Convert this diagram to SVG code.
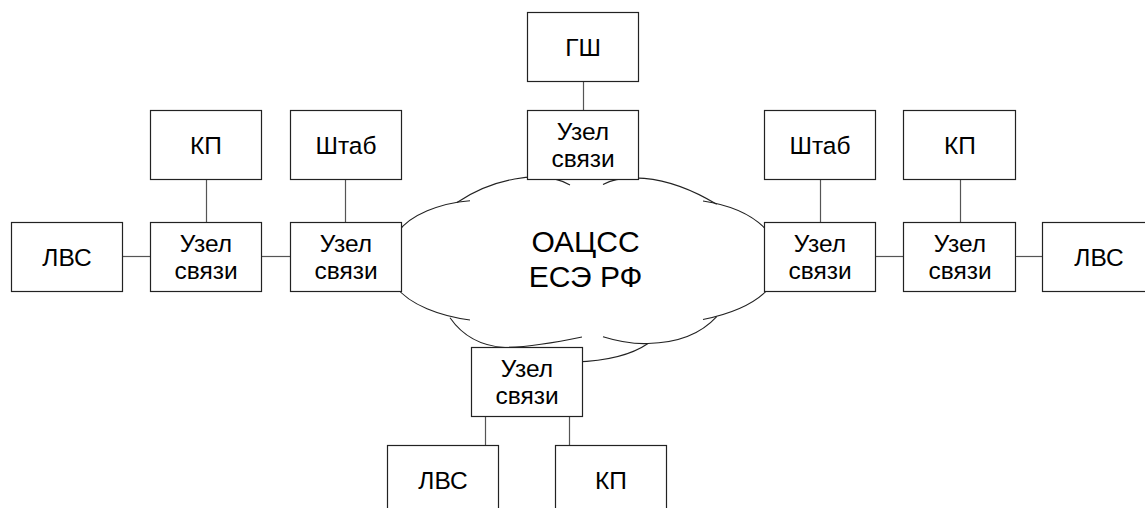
<svg xmlns="http://www.w3.org/2000/svg" width="1145" height="508" viewBox="0 0 1145 508">
  <style>
    .box { fill: #ffffff; stroke: #222222; stroke-width: 1.2; }
    .link { fill: none; stroke: #555555; stroke-width: 1.2; }
    .cloud { fill: none; stroke: #222222; stroke-width: 1.1; }
    .lbl { font-family: "Liberation Sans", Arial, sans-serif; font-size: 24.5px; fill: #000000; text-anchor: middle; }
    .big { font-family: "Liberation Sans", Arial, sans-serif; font-size: 30px; fill: #000000; text-anchor: middle; }
  </style>
  <rect width="1145" height="508" fill="#ffffff"/>

  <!-- network cloud outline: overlapping lobes -->
  <g id="cloud">
    <path class="cloud" d="M457,202.5 C490,180 540,168 570,185"/>
    <path class="cloud" d="M603,184.5 C618,176 660,170 716.7,204.3"/>
    <path class="cloud" d="M470,200.7 C440,203 410,215 398,232"/>
    <path class="cloud" d="M703,201 C730,205 755,215 770,234"/>
    <path class="cloud" d="M396,287 C410,305 440,316 470,320"/>
    <path class="cloud" d="M450,317.7 C462,335 480,346 505,347.5 C530,347 558,342 582,337"/>
    <path class="cloud" d="M603,336.7 C620,342 635,344 648,343.5 C675,343 700,335 716.7,316.7"/>
    <path class="cloud" d="M648,343.5 C630,356 605,361 575,362"/>
    <path class="cloud" d="M770,287 C755,305 730,314 703,319.5"/>
    <text class="big" x="585.5" y="252">ОАЦСС</text>
    <text class="big" x="585.5" y="286.5">ЕСЭ РФ</text>
  </g>

  <!-- connectors -->
  <g id="connectors">
    <line class="link" x1="122" y1="256.5" x2="150" y2="256.5"/>
    <line class="link" x1="262" y1="256.5" x2="290" y2="256.5"/>
    <line class="link" x1="206.5" y1="180" x2="206.5" y2="222"/>
    <line class="link" x1="345.5" y1="180" x2="345.5" y2="222"/>
    <line class="link" x1="583.5" y1="82" x2="583.5" y2="110"/>
    <line class="link" x1="820.5" y1="180" x2="820.5" y2="222"/>
    <line class="link" x1="960.5" y1="180" x2="960.5" y2="222"/>
    <line class="link" x1="876" y1="256.5" x2="904" y2="256.5"/>
    <line class="link" x1="1016" y1="256.5" x2="1043" y2="256.5"/>
    <line class="link" x1="485.5" y1="417" x2="485.5" y2="445"/>
    <line class="link" x1="569.5" y1="417" x2="569.5" y2="445"/>
  </g>

  <!-- left branch -->
  <g id="lvs-left">
    <rect class="box" x="11.5" y="222.5" width="111" height="69"/>
    <text class="lbl" x="67" y="265.5">ЛВС</text>
  </g>
  <g id="kp-left">
    <rect class="box" x="150.5" y="110.5" width="111" height="69"/>
    <text class="lbl" x="206" y="153.5">КП</text>
  </g>
  <g id="node-left-outer">
    <rect class="box" x="150.5" y="222.5" width="111" height="69"/>
    <text class="lbl" x="206" y="251.5">Узел</text>
    <text class="lbl" x="206" y="278.5">связи</text>
  </g>
  <g id="shtab-left">
    <rect class="box" x="290.5" y="110.5" width="111" height="69"/>
    <text class="lbl" x="346" y="153.5">Штаб</text>
  </g>
  <g id="node-left-inner">
    <rect class="box" x="290.5" y="222.5" width="111" height="69"/>
    <text class="lbl" x="346" y="251.5">Узел</text>
    <text class="lbl" x="346" y="278.5">связи</text>
  </g>

  <!-- top branch -->
  <g id="gsh">
    <rect class="box" x="527.5" y="12.5" width="111" height="69"/>
    <text class="lbl" x="583" y="55.5">ГШ</text>
  </g>
  <g id="node-top">
    <rect class="box" x="527.5" y="110.5" width="111" height="69"/>
    <text class="lbl" x="583" y="139.5">Узел</text>
    <text class="lbl" x="583" y="166.5">связи</text>
  </g>

  <!-- right branch -->
  <g id="shtab-right">
    <rect class="box" x="764.5" y="110.5" width="111" height="69"/>
    <text class="lbl" x="820" y="153.5">Штаб</text>
  </g>
  <g id="node-right-inner">
    <rect class="box" x="764.5" y="222.5" width="111" height="69"/>
    <text class="lbl" x="820" y="251.5">Узел</text>
    <text class="lbl" x="820" y="278.5">связи</text>
  </g>
  <g id="kp-right">
    <rect class="box" x="903.5" y="110.5" width="112" height="69"/>
    <text class="lbl" x="960" y="153.5">КП</text>
  </g>
  <g id="node-right-outer">
    <rect class="box" x="903.5" y="222.5" width="112" height="69"/>
    <text class="lbl" x="960" y="251.5">Узел</text>
    <text class="lbl" x="960" y="278.5">связи</text>
  </g>
  <g id="lvs-right">
    <rect class="box" x="1042.5" y="222.5" width="112" height="69"/>
    <text class="lbl" x="1099" y="265.5">ЛВС</text>
  </g>

  <!-- bottom branch -->
  <g id="node-bottom">
    <rect class="box" x="471.5" y="347.5" width="111" height="69"/>
    <text class="lbl" x="527" y="376.5">Узел</text>
    <text class="lbl" x="527" y="403.5">связи</text>
  </g>
  <g id="lvs-bottom">
    <rect class="box" x="387.5" y="445.5" width="111" height="69"/>
    <text class="lbl" x="443" y="488.5">ЛВС</text>
  </g>
  <g id="kp-bottom">
    <rect class="box" x="555.5" y="445.5" width="111" height="69"/>
    <text class="lbl" x="611" y="488.5">КП</text>
  </g>
</svg>
